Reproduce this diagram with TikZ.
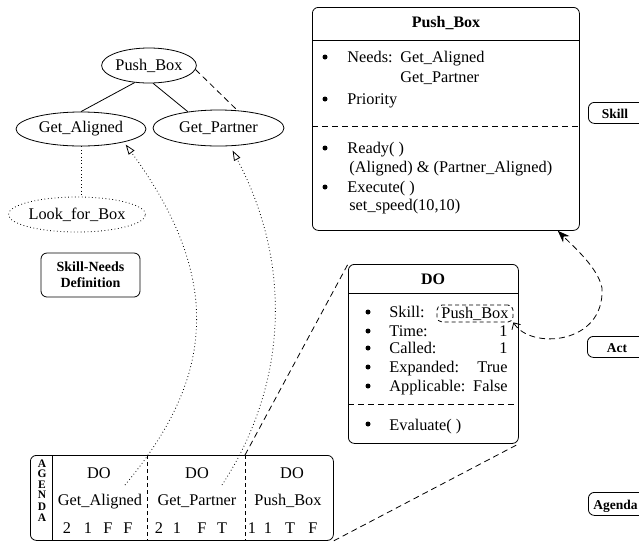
\documentclass[tikz,border=0pt]{standalone}
\usepackage{fontspec}
\setmainfont{Liberation Serif}
\usetikzlibrary{shapes.geometric,arrows.meta}
\begin{document}
\begin{tikzpicture}[x=1pt,y=-1pt,line width=0.8pt,
  rm/.style={font=\fontsize{16.3}{18}\selectfont,inner sep=0pt},
  bfl/.style={font=\fontsize{13.5}{16}\selectfont\bfseries,inner sep=0pt},
  bft/.style={font=\fontsize{16}{18}\selectfont\bfseries,inner sep=0pt},
  bfs/.style={font=\fontsize{11.5}{12}\selectfont\bfseries,inner sep=0pt},
  ell/.style={ellipse,draw,inner sep=0pt,font=\fontsize{16.3}{18}\selectfont},
  rbox/.style={draw,rounded corners=6pt,inner sep=0pt},
  dsh/.style={dash pattern=on 6pt off 4pt},
  dshs/.style={dash pattern=on 4pt off 3pt},
  dots/.style={dash pattern=on 0.8pt off 2.6pt},
  opentip/.style={-{Triangle[open,length=10pt,width=7pt]}}]
\clip (0,0) rectangle (639,542);

% ---------- Skill-needs tree ----------
\node[ell,minimum width=94pt,minimum height=35pt] (pb) at (149,65.5) {Push\_Box};
\node[ell,minimum width=130pt,minimum height=34pt] (ga) at (81,129) {Get\_Aligned};
\node[ell,minimum width=131pt,minimum height=36pt] (gp) at (218.5,128) {Get\_Partner};
\node[ell,dots,minimum width=129pt,minimum height=35pt] (lfb) at (77,214.5) {Look\_for\_Box};
\node[rbox,font=\fontsize{14}{16}\selectfont\bfseries,align=center,minimum width=99pt,minimum height=44pt] (snd) at (90.5,275) {Skill-Needs\\Definition};

\draw (pb.230) -- (ga.north);
\draw (pb.283) -- (gp.152);
\draw[dsh] (pb.-5) -- (gp.43);
\draw[dots] (ga.south) -- (ga.south |- lfb.north);

% ---------- Skill box ----------
\node[rbox,anchor=north west,minimum width=267pt,minimum height=223pt] (skb) at (312,7) {};
\node[bft,anchor=base] (skbt) at (446,27) {Push\_Box};
\draw (312,40) -- (579,40);
\node[rm,anchor=base west] (s1) at (347,62) {Needs:};
\node[rm,anchor=base west] (s2) at (400,62) {Get\_Aligned};
\node[rm,anchor=base west] (s3) at (400,82) {Get\_Partner};
\node[rm,anchor=base west] (s4) at (347,104) {Priority};
\draw[dsh] (312,126) -- (579,126);
\node[rm,anchor=base west] (s5) at (347,153) {Ready( )};
\node[rm,anchor=base west] (s6) at (349,172) {(Aligned) \& (Partner\_Aligned)};
\node[rm,anchor=base west] (s7) at (347,192) {Execute( )};
\node[rm,anchor=base west] (s8) at (349,210) {set\_speed(10,10)};
\foreach \yy in {57,99,148,187} {\fill (325,\yy) circle (2.5pt);}

% ---------- DO box ----------
\node[rbox,anchor=north west,minimum width=170pt,minimum height=179pt] (do) at (348,264) {};
\node[bft,anchor=base] (dot) at (433,284) {DO};
\draw (348,293) -- (518,293);
\node[rm,anchor=base west] (d1) at (389,317) {Skill:};
\node[rm,anchor=base west] (d2) at (389,336) {Time:};
\node[rm,anchor=base west] (d3) at (389,353) {Called:};
\node[rm,anchor=base west] (d4) at (389,372) {Expanded:};
\node[rm,anchor=base west] (d5) at (389,391) {Applicable:};
\node[rm,anchor=base east] (v2) at (508,336) {1};
\node[rm,anchor=base east] (v3) at (508,353) {1};
\node[rm,anchor=base east] (v4) at (508,372) {True};
\node[rm,anchor=base east] (v5) at (508,391) {False};
\node[rbox,rm,dshs,rounded corners=5pt,minimum width=76pt,minimum height=17pt] (pbx) at (475,313.5) {Push\_Box};
\draw[dsh] (348,404) -- (518,404);
\node[rm,anchor=base west] (d6) at (389,430) {Evaluate( )};
\foreach \yy in {312,331,348,367,386,424} {\fill (368,\yy) circle (2.5pt);}

% ---------- Agenda ----------
\node[rbox,anchor=north west,minimum width=303pt,minimum height=85pt] (agenda) at (30,455) {};
\draw (52,455) -- (52,540);
\draw[dshs] (147,455) -- (147,540);
\draw[dshs] (245,455) -- (245,540);
\foreach \l/\yy [count=\i] in {A/467,G/477.5,E/488,N/498.5,D/510,A/521}
  {\node[bfs,anchor=base] (agl\i) at (42,\yy) {\l};}
\node[rm,anchor=base] (a1) at (99,478) {DO};
\node[rm,anchor=base] (a2) at (197,478) {DO};
\node[rm,anchor=base] (a3) at (292,478) {DO};
\node[rm,anchor=base] (b1) at (100,505) {Get\_Aligned};
\node[rm,anchor=base] (b2) at (197,505) {Get\_Partner};
\node[rm,anchor=base] (b3) at (288,505) {Push\_Box};
\foreach \t/\xx [count=\i] in {2/67,1/88,F/108,F/128,2/159,1/177,F/202,T/222,1/252,1/268,T/290,F/313}
  {\node[rm,anchor=base] (c\i) at (\xx,533) {\t};}

% ---------- side labels ----------
\node[rbox,anchor=north west,minimum width=80pt,minimum height=21pt] (lskill) at (588,102) {};
\node[bfl,anchor=base] (tskill) at (615,118) {Skill};
\node[rbox,anchor=north west,minimum width=80pt,minimum height=21pt] (lact) at (587,336) {};
\node[bfl,anchor=base] (tact) at (617,352) {Act};
\node[rbox,anchor=north west,minimum width=80pt,minimum height=23pt] (lag) at (588,492) {};
\node[bfl,anchor=base west] (tag) at (593,509) {Agenda};

% ---------- connectors ----------
\coordinate (st1) at (125,485);
\coordinate (st2) at (222,485);
\coordinate (c3t) at (245,455);
\coordinate (turn) at (602,288);
\draw[dots,opentip,shorten >=3pt] (st1) .. controls (210,383) and (228,284) .. (ga.-17);
\draw[dots,opentip,shorten >=5pt] (st2) .. controls (285,389) and (295,269) .. (gp.-57);
\draw[dsh] (c3t) -- (do.north west);
\draw[dsh] (agenda.south east) -- (do.south east);
\draw[dsh,{Straight Barb[length=5pt,width=10pt]}-{Stealth[length=12pt,width=9pt]}]
  (pbx.south east) .. controls (530,350) and (605,345) .. (turn)
  .. controls (598,268) and (575,248) .. (skb.-45);
\end{tikzpicture}
\end{document}
